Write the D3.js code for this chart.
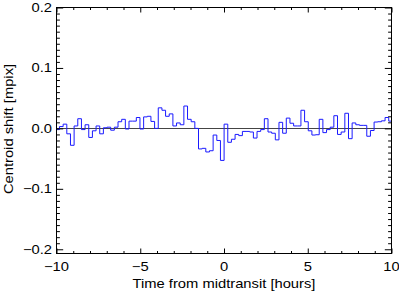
<!DOCTYPE html>
<html><head><meta charset="utf-8">
<script src="https://cdn.jsdelivr.net/npm/d3@7"></script>
<style>body{margin:0;background:#fff}svg{display:block}</style>
</head><body>
<svg id="c" width="399" height="291"></svg>
<script>
// bin left edges [hours]
const binEdges = [-10.040,-9.822,-9.603,-9.385,-9.166,-8.948,-8.730,-8.511,-8.293,-8.074,
 -7.856,-7.638,-7.419,-7.201,-6.982,-6.764,-6.546,-6.327,-6.109,-5.890,
 -5.672,-5.454,-5.235,-5.017,-4.798,-4.580,-4.362,-4.143,-3.925,-3.706,
 -3.488,-3.270,-3.051,-2.833,-2.614,-2.396,-2.178,-1.959,-1.741,-1.522,
 -1.304,-1.086,-0.867,-0.649,-0.430,-0.212,0.006,0.225,0.443,0.662,
 0.880,1.098,1.317,1.535,1.754,1.972,2.190,2.409,2.627,2.846,
 3.064,3.282,3.501,3.719,3.938,4.156,4.374,4.593,4.811,5.030,
 5.248,5.466,5.685,5.903,6.122,6.340,6.558,6.777,6.995,7.214,
 7.432,7.650,7.869,8.087,8.306,8.524,8.742,8.961,9.179,9.398,
 9.616,9.834];
const lastEdge = 10.053;
// centroid shift [mpix]
const shift = [-0.002,0.003,0.007,-0.009,-0.028,0.004,0.016,-0.002,0.006,-0.015,
 -0.004,0.004,-0.009,0.001,0.002,-0.003,0.002,0.011,0.015,-0.001,
 0.012,0.012,0.018,-0.001,0.019,0.020,0.0115,0.000,0.034,0.030,
 0.020,0.024,0.004,0.009,0.006,0.037,0.015,0.011,0.000,-0.034,
 -0.033,-0.039,-0.037,-0.011,-0.020,-0.053,0.007,-0.023,-0.018,-0.010,
 -0.012,-0.005,-0.005,-0.006,-0.016,-0.005,-0.002,0.016,-0.006,-0.008,
 -0.019,0.010,-0.008,0.017,0.0085,0.004,0.004,0.030,0.011,-0.004,
 -0.011,-0.0105,0.015,-0.007,-0.002,0.002,0.021,-0.010,-0.006,0.025,
 -0.017,0.009,0.006,0.005,0.005,-0.013,-0.0035,0.0105,0.011,0.0125,
 0.018,0.012];
const xMajor = [-10,-5,0,5,10];
const xMinor = [-9,-8,-7,-6,-4,-3,-2,-1,1,2,3,4,6,7,8,9];
const yMajor = [-0.2,-0.1,0.0,0.1,0.2];
const yMinor = [-0.19,-0.18,-0.17,-0.16,-0.15,-0.14,-0.13,-0.12,-0.11,
 -0.09,-0.08,-0.07,-0.06,-0.05,-0.04,-0.03,-0.02,-0.01,
 0.01,0.02,0.03,0.04,0.05,0.06,0.07,0.08,0.09,
 0.11,0.12,0.13,0.14,0.15,0.16,0.17,0.18,0.19];
const xTitle = "Time from midtransit [hours]";
const yTitle = "Centroid shift [mpix]";

const L = 56.5, R = 391.5, T = 7.5, B = 253.5;
const FONT = "Liberation Sans, Arial, Helvetica, sans-serif";
const FS = 12.5, SX = 1.18;

const svg = d3.select("#c");
const x = d3.scaleLinear().domain([-10,10]).range([L,R]);
const y = d3.scaleLinear().domain([-0.207,0.2]).range([B,T]);

svg.append("defs").append("clipPath").attr("id","clip")
  .append("rect").attr("x",L).attr("y",T).attr("width",R-L).attr("height",B-T);

// zero line
svg.append("line").attr("x1",x(-10)).attr("x2",x(10))
  .attr("y1",Math.round(y(0))+0.5).attr("y2",Math.round(y(0))+0.5)
  .attr("stroke","#444").attr("stroke-width",1);

// step line
const pts = binEdges.map((t,i)=>[t,shift[i]]).concat([[lastEdge, shift[shift.length-1]]]);
const line = d3.line().x(d=>x(d[0])).y(d=>y(d[1])).curve(d3.curveStepAfter);
svg.append("path").datum(pts).attr("d",line).attr("clip-path","url(#clip)")
  .attr("fill","none").attr("stroke","#1a1aff").attr("stroke-width",1);

// axes (ticks inward on all sides)
function styleAxis(g){ g.select(".domain").remove(); g.selectAll("line").attr("stroke","#000"); }
const fmtX = d => (d<0?"\u2212":"") + Math.abs(d);
const fmtY = d => (d<0?"\u2212":"") + Math.abs(d).toFixed(1);

svg.append("g").attr("transform",`translate(0,${B})`)
  .call(d3.axisBottom(x).tickValues(xMinor).tickSize(-2.5).tickFormat("")).call(styleAxis);
svg.append("g").attr("transform",`translate(0,${B})`)
  .call(d3.axisBottom(x).tickValues(xMajor).tickSize(-5).tickFormat("")).call(styleAxis);
svg.append("g").attr("transform",`translate(0,${T})`)
  .call(d3.axisTop(x).tickValues(xMinor).tickSize(-2.5).tickFormat("")).call(styleAxis);
svg.append("g").attr("transform",`translate(0,${T})`)
  .call(d3.axisTop(x).tickValues(xMajor).tickSize(-5).tickFormat("")).call(styleAxis);
svg.append("g").attr("transform",`translate(${L},0)`)
  .call(d3.axisLeft(y).tickValues(yMinor).tickSize(-3.4).tickFormat("")).call(styleAxis);
svg.append("g").attr("transform",`translate(${L},0)`)
  .call(d3.axisLeft(y).tickValues(yMajor).tickSize(-6.7).tickFormat("")).call(styleAxis);
svg.append("g").attr("transform",`translate(${R},0)`)
  .call(d3.axisRight(y).tickValues(yMinor).tickSize(-3.4).tickFormat("")).call(styleAxis);
svg.append("g").attr("transform",`translate(${R},0)`)
  .call(d3.axisRight(y).tickValues(yMajor).tickSize(-6.7).tickFormat("")).call(styleAxis);

// frame
svg.append("rect").attr("x",L).attr("y",T).attr("width",R-L).attr("height",B-T)
  .attr("fill","none").attr("stroke","#000").attr("stroke-width",1);

// labels
function label(px,py,txt,anchor,rot){
  const g = svg.append("g").attr("transform",`translate(${px},${py}) rotate(${rot||0}) scale(${SX},1)`);
  g.append("text").attr("x",0).attr("y",0).attr("text-anchor",anchor)
    .attr("font-family",FONT).attr("font-size",FS).attr("fill","#000").text(txt);
}
xMajor.forEach(d=>label(x(d),271,fmtX(d),"middle"));
yMajor.forEach(d=>label(52,y(d)+4.5,fmtY(d),"end"));
label((L+R)/2,287.5,xTitle,"middle");
label(13,129,yTitle,"middle",-90);
</script>
</body></html>
